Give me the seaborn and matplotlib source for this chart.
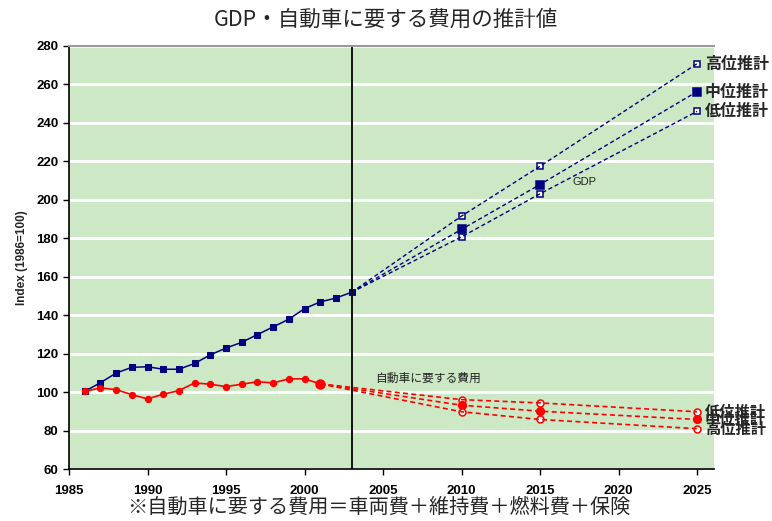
import matplotlib
matplotlib.use("Agg")
import matplotlib.pyplot as plt
import seaborn as sns

# Historical data (index, 1986=100)
years_hist = list(range(1986, 2004))
gdp_hist = [100.5, 105, 110, 113, 113.3, 112, 112, 115, 119.5, 123, 126, 130,
            134, 138, 143.5, 147, 149, 152]
cost_years = list(range(1986, 2002))
cost_hist = [100.5, 102.3, 101.4, 98.8, 96.6, 99, 100.9, 104.9, 104.2, 103,
             104.2, 105.5, 104.9, 107, 107, 104.4]

# Projections
gdp_proj_years = [2003, 2010, 2015, 2025]
gdp_high = [152, 191.6, 217.5, 270.8]
gdp_mid = [152, 184.7, 208, 256.3]
gdp_low = [152, 180.8, 203.2, 246]

cost_proj_years = [2001, 2010, 2015, 2025]
cost_low = [104.4, 96.2, 94.5, 89.9]   # 低位推計 (highest cost)
cost_mid = [104.4, 93.3, 90.2, 85.9]
cost_high = [104.4, 89.9, 85.9, 81.1]

proj_labels = ["高位推計", "中位推計", "低位推計"]

sns.set_style("white")
plt.rcParams["font.family"] = ["Liberation Sans", "Noto Sans CJK JP", "DejaVu Sans"]
jp = ["Noto Sans CJK JP", "DejaVu Sans"]

NAVY = "#000080"
RED = "#FF0000"
GREEN_BG = "#CCE8C4"

fig = plt.figure(figsize=(7.72, 5.21), dpi=100)
ax = fig.add_axes([69 / 772, 51.7 / 521, (714.3 - 69) / 772, (469.3 - 46) / 521])
ax.set_facecolor(GREEN_BG)

# GDP
sns.lineplot(x=years_hist, y=gdp_hist, ax=ax, color=NAVY, lw=1.1,
             marker="s", markersize=4.5, markeredgecolor=NAVY)
for vals, filled in [(gdp_high, False), (gdp_mid, True), (gdp_low, False)]:
    sns.lineplot(x=gdp_proj_years[1:], y=vals[1:], ax=ax, color=NAVY, lw=0,
                 marker="s", markersize=5.5 if filled else 5,
                 markerfacecolor=NAVY if filled else "white",
                 markeredgecolor=NAVY, markeredgewidth=1.1)
    ax.plot(gdp_proj_years, vals, color=NAVY, lw=1, ls=(0, (3, 2)))

# cost
sns.lineplot(x=cost_years, y=cost_hist, ax=ax, color=RED, lw=1.2,
             marker="o", markersize=4.5, markeredgecolor=RED)
ax.plot([2001], [104.4], marker="o", markersize=6.5, color=RED)
for vals, filled in [(cost_low, False), (cost_mid, True), (cost_high, False)]:
    sns.lineplot(x=cost_proj_years[1:], y=vals[1:], ax=ax, color=RED, lw=0,
                 marker="o", markersize=5.5 if filled else 5,
                 markerfacecolor=RED if filled else "white",
                 markeredgecolor=RED, markeredgewidth=1.1)
    ax.plot(cost_proj_years, vals, color=RED, lw=1.2, ls=(0, (3, 2)))

# right labels
for vals, lab in zip([gdp_high, gdp_mid, gdp_low], proj_labels):
    ax.text(2025.5, vals[-1], lab, family=jp, fontsize=11.5, fontweight="bold",
            va="center", ha="left", clip_on=False)
for vals, lab in zip([cost_high, cost_mid, cost_low], proj_labels):
    ax.text(2025.5, vals[-1], lab, family=jp, fontsize=11, fontweight="bold",
            va="center", ha="left", clip_on=False)

ax.text(2017.1, 209.5, "GDP", fontsize=8, color="#222222", va="center")
ax.text(2004.5, 107.5, "自動車に要する費用", family=jp, fontsize=8.5,
        color="#222222", va="center")

ax.axvline(2003, color="black", lw=1.3)

ax.set_xlim(1985, 2026.1)
ax.set_ylim(60, 280)
ax.set_xticks(range(1985, 2026, 5))
ax.set_yticks(range(60, 281, 20))
ax.yaxis.grid(True, color="white", lw=2)
ax.xaxis.grid(False)
ax.set_axisbelow(True)
ax.tick_params(axis="both", direction="out", length=4, width=1, colors="black",
               labelsize=9.5, left=True, bottom=True)
for lab in ax.get_xticklabels() + ax.get_yticklabels():
    lab.set_fontweight("bold")
ax.tick_params(axis="x", pad=7)

for side in ["left", "bottom"]:
    ax.spines[side].set_color("black")
    ax.spines[side].set_linewidth(1.2)
ax.spines["top"].set_color("#999999")
ax.spines["top"].set_linewidth(1.5)
ax.spines["right"].set_visible(False)

ax.set_ylabel("Index (1986=100)", fontsize=8.5, fontweight="bold", labelpad=6)

fig.text(0.5, 0.962, "GDP・自動車に要する費用の推計値", family=jp, fontsize=15.5,
         ha="center", va="center")
fig.text(0.49, 0.026, "※自動車に要する費用＝車両費＋維持費＋燃料費＋保険", family=jp,
         fontsize=14.5, ha="center", va="center")

fig.savefig("out.png", dpi=100)
